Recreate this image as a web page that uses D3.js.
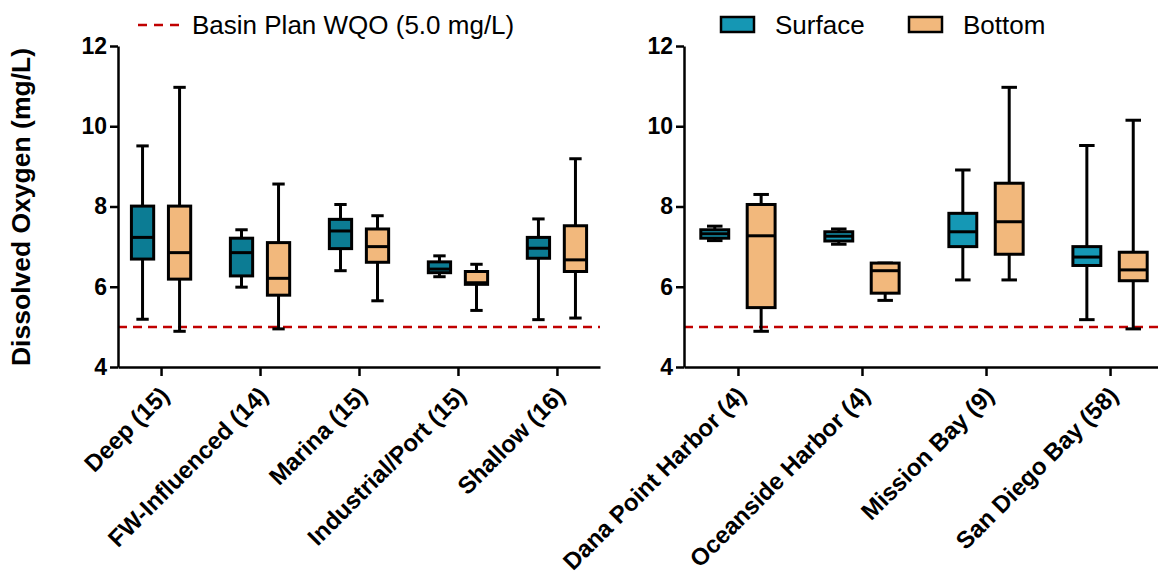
<!DOCTYPE html>
<html>
<head>
    <meta charset="utf-8">
    <script src="https://d3js.org/d3.v7.js"></script>
    <style type="text/css">
        body {
            margin: 0;
            background: #fff;
            font-family: Arial, "Liberation Sans", sans-serif;
        }
        .axis path, .axis line {
            stroke: #000;
            stroke-width: 2.5px;
        }
        .axis text {
            font: bold 23px Arial, "Liberation Sans", sans-serif;
            fill: #000;
        }
    </style>
</head>
<body>
<script>

    // stats per box: [min, q1, median, q3, max]
    var leftCats = ["Deep (15)", "FW-Influenced (14)", "Marina (15)", "Industrial/Port (15)", "Shallow (16)"];
    var leftSurface = [
        [5.19, 6.69, 7.23, 8.01, 9.51],
        [5.99, 6.27, 6.85, 7.21, 7.42],
        [6.40, 6.95, 7.39, 7.68, 8.05],
        [6.25, 6.35, 6.44, 6.62, 6.77],
        [5.18, 6.71, 6.96, 7.23, 7.69]
    ];
    var leftBottom = [
        [4.89, 6.19, 6.85, 8.01, 10.97],
        [4.95, 5.79, 6.21, 7.10, 8.56],
        [5.65, 6.61, 7.00, 7.44, 7.77],
        [5.41, 6.06, 6.10, 6.38, 6.56],
        [5.22, 6.38, 6.67, 7.52, 9.19]
    ];

    var rightCats = ["Dana Point Harbor (4)", "Oceanside Harbor (4)", "Mission Bay (9)", "San Diego Bay (58)"];
    var rightSurface = [
        [7.15, 7.21, 7.32, 7.42, 7.51],
        [7.06, 7.14, 7.26, 7.37, 7.44],
        [6.17, 7.00, 7.37, 7.83, 8.91],
        [5.18, 6.53, 6.74, 7.00, 9.52]
    ];
    var rightBottom = [
        [4.89, 5.48, 7.27, 8.05, 8.30],
        [5.66, 5.84, 6.40, 6.59, 6.59],
        [6.17, 6.81, 7.62, 8.58, 10.97],
        [4.95, 6.15, 6.42, 6.86, 10.15]
    ];

    var yTicks = [4, 6, 8, 10, 12];
    var wqo = 5.0;

    var bottomColor = "#f2b87c";
    var redColor = "#c00000";

    var svg = d3.select("body").append("svg")
        .attr("width", 1158)
        .attr("height", 573);

    var y = d3.scaleLinear()
        .domain([4, 12])
        .range([367, 46]);

    function drawPanel(cats, surf, bott, x0, x1, surfColor) {
        var x = d3.scalePoint()
            .domain(cats)
            .range([x0, x1])
            .padding(0.435);
        var step = x.step();
        var off = step * 0.187, bw = step * 0.225, cw = step * 0.125;

        var g = svg.append("g");

        // WQO line
        g.append("line")
            .attr("x1", x0).attr("x2", x1)
            .attr("y1", y(wqo)).attr("y2", y(wqo))
            .style("stroke", redColor)
            .style("stroke-width", 2.5)
            .style("stroke-dasharray", "9,6");

        var series = [
            { data: surf, dx: -off, fill: surfColor },
            { data: bott, dx: off, fill: bottomColor }
        ];

        series.forEach(function(s) {
            var box = g.selectAll(null)
                .data(s.data.map(function(d, i) { return { cat: cats[i], v: d }; }))
                .enter().append("g")
                .attr("transform", d => "translate(" + (x(d.cat) + s.dx) + ",0)");

            box.append("line") // whisker
                .attr("x1", 0).attr("x2", 0)
                .attr("y1", d => y(d.v[0])).attr("y2", d => y(d.v[4]))
                .style("stroke", "#000").style("stroke-width", 3);
            box.append("line")
                .attr("x1", -cw / 2).attr("x2", cw / 2)
                .attr("y1", d => y(d.v[0])).attr("y2", d => y(d.v[0]))
                .style("stroke", "#000").style("stroke-width", 3);
            box.append("line")
                .attr("x1", -cw / 2).attr("x2", cw / 2)
                .attr("y1", d => y(d.v[4])).attr("y2", d => y(d.v[4]))
                .style("stroke", "#000").style("stroke-width", 3);

            box.append("rect")
                .attr("x", -bw / 2)
                .attr("width", bw)
                .attr("y", d => y(d.v[3]))
                .attr("height", d => y(d.v[1]) - y(d.v[3]))
                .style("fill", s.fill)
                .style("stroke", "#000")
                .style("stroke-width", 3);

            box.append("line") // median
                .attr("x1", -bw / 2).attr("x2", bw / 2)
                .attr("y1", d => y(d.v[2])).attr("y2", d => y(d.v[2]))
                .style("stroke", "#000").style("stroke-width", 3);
        });

        // y axis
        g.append("g")
            .attr("class", "axis")
            .attr("transform", "translate(" + x0 + ",0)")
            .call(d3.axisLeft(y).tickValues(yTicks).tickSize(8).tickPadding(3).tickSizeOuter(0));

        // x axis
        var xa = g.append("g")
            .attr("class", "axis")
            .attr("transform", "translate(0," + y(4) + ")")
            .call(d3.axisBottom(x).tickSize(9).tickSizeOuter(0));
        xa.selectAll("text")
            .style("font-size", "24px")
            .attr("text-anchor", "end")
            .attr("x", null).attr("y", null).attr("dy", null)
            .attr("transform", "translate(9,30) rotate(-45)");
    }

    drawPanel(leftCats, leftSurface, leftBottom, 118, 600, "#0c7c94");
    drawPanel(rightCats, rightSurface, rightBottom, 684, 1164, "#1598b5");

    // y title
    svg.append("text")
        .attr("transform", "translate(30,207) rotate(-90)")
        .attr("text-anchor", "middle")
        .style("font", "bold 26.5px Arial, 'Liberation Sans', sans-serif")
        .text("Dissolved Oxygen (mg/L)");

    // legend
    var lg = svg.append("g").style("font", "26px Arial, 'Liberation Sans', sans-serif");
    lg.append("line")
        .attr("x1", 138).attr("x2", 179).attr("y1", 25).attr("y2", 25)
        .style("stroke", redColor).style("stroke-width", 2.5)
        .style("stroke-dasharray", "9,7");
    lg.append("text").attr("x", 192).attr("y", 34).text("Basin Plan WQO (5.0 mg/L)");

    var keys = [
        { name: "Surface", fill: "#1597b4", x: 721 },
        { name: "Bottom", fill: bottomColor, x: 909 }
    ];
    keys.forEach(function(k) {
        lg.append("rect")
            .attr("x", k.x).attr("y", 17).attr("width", 33).attr("height", 15)
            .style("fill", k.fill).style("stroke", "#000").style("stroke-width", 2.5);
        lg.append("text").attr("x", k.x + 54).attr("y", 34).text(k.name);
    });

</script>
</body>
</html>
